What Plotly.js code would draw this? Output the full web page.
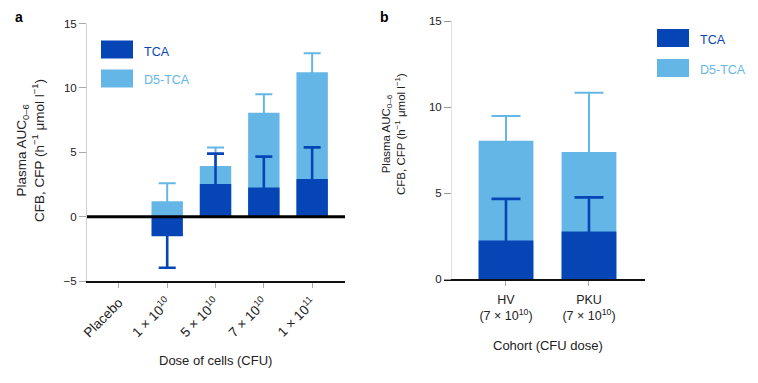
<!DOCTYPE html>
<html>
<head>
<meta charset="utf-8">
<script src="https://cdn.plot.ly/plotly-3.0.1.min.js"></script>
<style>html,body{margin:0;padding:0;background:#fff;}#chart{width:758px;height:383px;}</style>
</head>
<body>
<div id="chart"></div>
<script>
// ---- Data ----
var doseLabels = ['Placebo', '1 × 10<sup>10</sup>', '5 × 10<sup>10</sup>', '7 × 10<sup>10</sup>', '1 × 10<sup>11</sup>'];
var tcaDose = [null, -1.52, 2.53, 2.26, 2.92];
var tcaDoseErr = [null, 2.45, 2.36, 2.40, 2.46];
var d5Dose = [null, 1.19, 3.93, 8.07, 11.21];
var d5DoseErr = [null, 1.40, 1.43, 1.43, 1.47];

var cohortLabels = ['HV<br>(7 × 10<sup>10</sup>)', 'PKU<br>(7 × 10<sup>10</sup>)'];
var tcaCohort = [2.25, 2.77];
var tcaCohortErr = [2.42, 1.99];
var d5Cohort = [8.05, 7.39];
var d5CohortErr = [1.44, 3.45];

var seriesNames = ['TCA', 'D5-TCA'];

// ---- Styling ----
var DARK = '#0645B6';
var LIGHT = '#64B6E6';
var FONT = 'Liberation Sans, Arial, Helvetica, sans-serif';
var W = 758, H = 383;
function px(x) { return x / W; }
function py(y) { return 1 - y / H; }

// error bars point away from zero; the inner cap is tucked inside the bar (style only)
function outErr(vals, errs, inset, positive) {
  return vals.map(function (v, i) {
    if (v === null) return 0;
    var away = (v >= 0) === positive;
    return away ? errs[i] : inset;
  });
}

var traces = [
  { type: 'bar', name: seriesNames[1], x: doseLabels, y: d5Dose, xaxis: 'x', yaxis: 'y',
    marker: { color: LIGHT }, width: 0.65, showlegend: false,
    error_y: { type: 'data', symmetric: false, array: outErr(d5Dose, d5DoseErr, 0.15, true), arrayminus: outErr(d5Dose, d5DoseErr, 0.15, false),
      color: LIGHT, thickness: 2, width: 8.5 } },
  { type: 'bar', name: seriesNames[0], x: doseLabels, y: tcaDose, xaxis: 'x', yaxis: 'y',
    marker: { color: DARK }, width: 0.65, showlegend: false,
    error_y: { type: 'data', symmetric: false, array: outErr(tcaDose, tcaDoseErr, 0.15, true), arrayminus: outErr(tcaDose, tcaDoseErr, 0.15, false),
      color: DARK, thickness: 2.6, width: 8.5 } },
  { type: 'bar', name: seriesNames[1], x: cohortLabels, y: d5Cohort, xaxis: 'x2', yaxis: 'y2',
    marker: { color: LIGHT }, width: 0.66, showlegend: false,
    error_y: { type: 'data', symmetric: false, array: outErr(d5Cohort, d5CohortErr, 0.12, true), arrayminus: outErr(d5Cohort, d5CohortErr, 0.12, false),
      color: LIGHT, thickness: 2, width: 14.5 } },
  { type: 'bar', name: seriesNames[0], x: cohortLabels, y: tcaCohort, xaxis: 'x2', yaxis: 'y2',
    marker: { color: DARK }, width: 0.66, showlegend: false,
    error_y: { type: 'data', symmetric: false, array: outErr(tcaCohort, tcaCohortErr, 0.12, true), arrayminus: outErr(tcaCohort, tcaCohortErr, 0.12, false),
      color: DARK, thickness: 2.6, width: 14.5 } }
];

var tickFont = { family: FONT, size: 11.5, color: '#222' };
var yTitle = 'Plasma AUC<sub>0–6</sub><br>CFB, CFP (h<sup>−1</sup> μmol l<sup>−1</sup>)';

var layout = {
  width: W, height: H,
  margin: { l: 0, r: 0, t: 0, b: 0 },
  paper_bgcolor: '#fff', plot_bgcolor: 'rgba(0,0,0,0)',
  barmode: 'overlay',
  showlegend: false,
  font: { family: FONT, size: 12, color: '#222' },
  xaxis: {
    domain: [px(87), px(345)], anchor: 'y',
    type: 'category', categoryorder: 'array', categoryarray: doseLabels,
    range: [-0.66, 4.68], fixedrange: true,
    showline: true, linecolor: '#111', linewidth: 1.5,
    ticks: 'outside', ticklen: 5, tickcolor: '#aaa', tickwidth: 1,
    tickangle: -45, tickfont: { family: FONT, size: 13.5, color: '#222' }, ticklabelstandoff: 2, showgrid: false
  },
  yaxis: {
    domain: [py(281), py(23.5)], anchor: 'x',
    range: [-5, 15], tickvals: [-5, 0, 5, 10, 15], fixedrange: true,
    showline: true, linecolor: '#cfcfcf', linewidth: 1,
    ticks: 'outside', ticklen: 7, tickcolor: '#aaa', tickwidth: 1,
    tickfont: tickFont, showgrid: false, zeroline: false
  },
  xaxis2: {
    domain: [px(444), px(645)], anchor: 'y2',
    type: 'category', categoryorder: 'array', categoryarray: cohortLabels,
    range: [-0.747, 1.675], fixedrange: true,
    showline: true, linecolor: '#111', linewidth: 1.5,
    ticks: 'outside', ticklen: 5, tickcolor: '#aaa', tickwidth: 1,
    tickangle: 0, tickfont: { family: FONT, size: 12.5, color: '#222' }, ticklabelstandoff: 3, showgrid: false
  },
  yaxis2: {
    domain: [py(279.3), py(21)], anchor: 'free', position: px(451),
    range: [0, 15], tickvals: [0, 5, 10, 15], fixedrange: true,
    showline: true, linecolor: '#e2e2e2', linewidth: 1,
    ticks: 'outside', ticklen: 7, tickcolor: '#999', tickwidth: 1,
    tickfont: tickFont, showgrid: false, zeroline: false
  },
  shapes: [
    // thick zero line on panel a
    { type: 'line', xref: 'x domain', yref: 'y', x0: 0, x1: 1, y0: 0, y1: 0,
      line: { color: '#000', width: 3 }, layer: 'above' },
    // legend swatches panel a
    { type: 'rect', xref: 'paper', yref: 'paper', x0: px(101), x1: px(133), y0: py(58.5), y1: py(40.5),
      fillcolor: DARK, line: { width: 0 } },
    { type: 'rect', xref: 'paper', yref: 'paper', x0: px(101), x1: px(133), y0: py(87.5), y1: py(69.5),
      fillcolor: LIGHT, line: { width: 0 } },
    // legend swatches panel b
    { type: 'rect', xref: 'paper', yref: 'paper', x0: px(657), x1: px(689), y0: py(47), y1: py(29),
      fillcolor: DARK, line: { width: 0 } },
    { type: 'rect', xref: 'paper', yref: 'paper', x0: px(657), x1: px(689), y0: py(77), y1: py(59),
      fillcolor: LIGHT, line: { width: 0 } }
  ],
  annotations: [
    { text: '<b>a</b>', xref: 'paper', yref: 'paper', x: px(19), y: py(17), showarrow: false,
      xanchor: 'center', yanchor: 'middle', font: { family: FONT, size: 14, color: '#000' } },
    { text: '<b>b</b>', xref: 'paper', yref: 'paper', x: px(384), y: py(17), showarrow: false,
      xanchor: 'center', yanchor: 'middle', font: { family: FONT, size: 14, color: '#000' } },
    { text: yTitle, xref: 'paper', yref: 'paper', x: px(30), y: py(151), showarrow: false, textangle: -90,
      xanchor: 'center', yanchor: 'middle', font: { family: FONT, size: 13.5, color: '#222' } },
    { text: yTitle, xref: 'paper', yref: 'paper', x: px(393), y: py(134), showarrow: false, textangle: -90,
      xanchor: 'center', yanchor: 'middle', font: { family: FONT, size: 11.5, color: '#222' } },
    { text: 'Dose of cells (CFU)', xref: 'paper', yref: 'paper', x: px(215), y: py(360), showarrow: false,
      xanchor: 'center', yanchor: 'middle', font: { family: FONT, size: 13, color: '#222' } },
    { text: 'Cohort (CFU dose)', xref: 'paper', yref: 'paper', x: px(548), y: py(345), showarrow: false,
      xanchor: 'center', yanchor: 'middle', font: { family: FONT, size: 13, color: '#222' } },
    { text: seriesNames[0], xref: 'paper', yref: 'paper', x: px(142), y: py(52), showarrow: false,
      xanchor: 'left', yanchor: 'middle', font: { family: FONT, size: 12.5, color: DARK } },
    { text: seriesNames[1], xref: 'paper', yref: 'paper', x: px(142), y: py(80), showarrow: false,
      xanchor: 'left', yanchor: 'middle', font: { family: FONT, size: 12.5, color: LIGHT } },
    { text: seriesNames[0], xref: 'paper', yref: 'paper', x: px(698), y: py(40), showarrow: false,
      xanchor: 'left', yanchor: 'middle', font: { family: FONT, size: 12.5, color: DARK } },
    { text: seriesNames[1], xref: 'paper', yref: 'paper', x: px(698), y: py(70), showarrow: false,
      xanchor: 'left', yanchor: 'middle', font: { family: FONT, size: 12.5, color: LIGHT } }
  ]
};

Plotly.newPlot('chart', traces, layout, { displayModeBar: false, staticPlot: true });
</script>
</body>
</html>
